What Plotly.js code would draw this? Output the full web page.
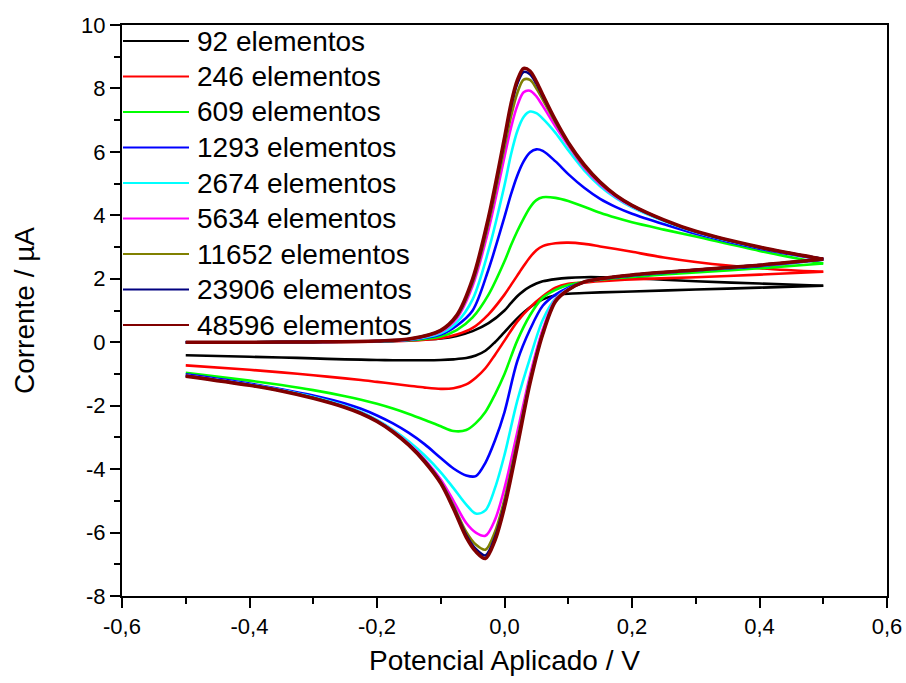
<!DOCTYPE html>
<html>
<head>
<meta charset="utf-8">
<script src="https://cdn.plot.ly/plotly-3.0.1.min.js"></script>
<style>
  html, body { margin: 0; padding: 0; background: #ffffff; }
  #chart { width: 906px; height: 683px; }
</style>
</head>
<body>
<div id="chart"></div>
<script>
// ---------------- DATA ----------------
const seriesNames = ["92 elementos", "246 elementos", "609 elementos", "1293 elementos",
  "2674 elementos", "5634 elementos", "11652 elementos", "23906 elementos", "48596 elementos"];
const seriesColors = ["#000000", "#ff0000", "#00ff00", "#0000ff", "#00ffff", "#ff00ff",
  "#808000", "#000080", "#800000"];

// forward scan (-0.5 -> 0.5 V) followed by reverse scan (0.5 -> -0.5 V)
const potentialForward = [-0.5, -0.4, -0.3, -0.2, -0.15, -0.1, -0.075, -0.05, -0.025, 0, 0.01, 0.02, 0.03,
  0.04, 0.05, 0.06, 0.08, 0.1, 0.125, 0.15, 0.175, 0.2, 0.25, 0.3, 0.4, 0.5];
const potentialReverse = [0.4, 0.3, 0.2, 0.15, 0.125, 0.1, 0.08, 0.06, 0.04, 0.02, 0, -0.015, -0.03,
  -0.045, -0.06, -0.08, -0.1, -0.125, -0.15, -0.175, -0.2, -0.225, -0.25, -0.3, -0.35, -0.4, -0.5];

// current (uA): forward values, then reverse values
const current92 = [0, 0, 0.01, 0.03, 0.06, 0.12, 0.2, 0.35, 0.6, 1.0, 1.23, 1.45, 1.62, 1.75, 1.85, 1.92, 1.99, 2.03, 2.05, 2.05, 2.04, 2.02, 1.97, 1.92, 1.85, 1.78,
  1.72, 1.66, 1.6, 1.57, 1.55, 1.53, 1.48, 1.35, 1.1, 0.75, 0.32, 0.0, -0.27, -0.42, -0.5, -0.54, -0.56, -0.57, -0.57, -0.57, -0.56, -0.55, -0.54, -0.51, -0.48, -0.46, -0.41];
const current246 = [0, 0, 0, 0.02, 0.05, 0.13, 0.24, 0.45, 0.88, 1.5, 1.8, 2.1, 2.4, 2.68, 2.9, 3.03, 3.12, 3.14, 3.1, 3.02, 2.94, 2.85, 2.67, 2.53, 2.33, 2.22,
  2.13, 2.05, 1.98, 1.92, 1.88, 1.84, 1.72, 1.45, 1.1, 0.65, 0.05, -0.4, -0.82, -1.12, -1.33, -1.45, -1.47, -1.43, -1.37, -1.31, -1.25, -1.19, -1.14, -1.04, -0.95, -0.87, -0.73];
const current609 = [0, 0, 0.01, 0.03, 0.06, 0.18, 0.38, 0.78, 1.5, 2.55, 3.05, 3.5, 3.9, 4.25, 4.48, 4.57, 4.55, 4.45, 4.27, 4.08, 3.92, 3.78, 3.55, 3.33, 2.88, 2.48,
  2.33, 2.2, 2.06, 1.97, 1.9, 1.8, 1.65, 1.4, 0.85, 0.05, -1.0, -1.65, -2.2, -2.55, -2.77, -2.8, -2.65, -2.45, -2.26, -2.09, -1.94, -1.81, -1.7, -1.51, -1.35, -1.21, -0.96];
const current1293 = [0, 0, 0.01, 0.03, 0.07, 0.24, 0.52, 1.0, 2.3, 3.95, 4.65, 5.25, 5.7, 5.98, 6.08, 6.03, 5.7, 5.3, 4.87, 4.52, 4.26, 4.05, 3.72, 3.42, 2.95, 2.6,
  2.4, 2.26, 2.1, 1.99, 1.9, 1.72, 1.5, 1.15, 0.4, -0.6, -2.2, -3.1, -3.8, -4.22, -4.2, -3.98, -3.65, -3.22, -2.86, -2.56, -2.31, -2.1, -1.93, -1.68, -1.48, -1.3, -1.01];
const current2674 = [0, 0, 0.01, 0.03, 0.08, 0.28, 0.62, 1.35, 2.9, 4.95, 5.9, 6.65, 7.1, 7.27, 7.22, 7.05, 6.6, 6.05, 5.42, 4.92, 4.54, 4.25, 3.82, 3.47, 2.98, 2.62,
  2.42, 2.27, 2.11, 1.99, 1.9, 1.68, 1.38, 0.7, -0.5, -1.85, -3.55, -4.6, -5.3, -5.4, -5.12, -4.6, -4.1, -3.57, -3.13, -2.76, -2.45, -2.2, -2.01, -1.73, -1.51, -1.33, -1.05];
const current5634 = [0, 0, 0.01, 0.04, 0.09, 0.33, 0.75, 1.78, 3.55, 5.85, 6.75, 7.45, 7.88, 7.93, 7.75, 7.45, 6.8, 6.2, 5.5, 4.98, 4.58, 4.28, 3.84, 3.48, 2.99, 2.62,
  2.43, 2.28, 2.12, 2.0, 1.9, 1.67, 1.35, 0.4, -1.05, -2.85, -4.6, -5.6, -6.1, -6.0, -5.7, -5.0, -4.33, -3.7, -3.2, -2.79, -2.47, -2.22, -2.03, -1.75, -1.52, -1.34, -1.05];
const current11652 = [0, 0, 0.01, 0.04, 0.1, 0.35, 0.8, 1.88, 3.75, 6.15, 7.1, 7.85, 8.28, 8.27, 8.0, 7.65, 6.92, 6.25, 5.55, 5.02, 4.61, 4.3, 3.85, 3.49, 2.99, 2.62,
  2.43, 2.28, 2.12, 2.0, 1.9, 1.66, 1.32, 0.32, -1.18, -3.1, -4.95, -5.98, -6.54, -6.38, -5.98, -5.15, -4.4, -3.73, -3.22, -2.81, -2.48, -2.23, -2.04, -1.75, -1.53, -1.35, -1.06];
const current23906 = [0, 0, 0.01, 0.04, 0.1, 0.37, 0.83, 1.95, 3.88, 6.35, 7.4, 8.15, 8.52, 8.45, 8.15, 7.75, 6.97, 6.28, 5.58, 5.04, 4.62, 4.31, 3.85, 3.49, 2.99, 2.62,
  2.43, 2.28, 2.12, 2.0, 1.9, 1.65, 1.3, 0.28, -1.25, -3.22, -5.1, -6.15, -6.72, -6.52, -6.08, -5.2, -4.42, -3.75, -3.23, -2.82, -2.49, -2.24, -2.05, -1.76, -1.53, -1.35, -1.06];
const current48596 = [0, 0, 0.01, 0.04, 0.1, 0.38, 0.85, 2.0, 3.95, 6.45, 7.5, 8.25, 8.63, 8.55, 8.22, 7.8, 7.0, 6.3, 5.6, 5.05, 4.63, 4.32, 3.86, 3.5, 3.0, 2.62,
  2.43, 2.28, 2.12, 2.0, 1.9, 1.65, 1.28, 0.25, -1.3, -3.3, -5.2, -6.25, -6.82, -6.6, -6.15, -5.25, -4.45, -3.78, -3.25, -2.83, -2.5, -2.25, -2.06, -1.77, -1.54, -1.36, -1.07];

const xTickVals = [-0.6, -0.4, -0.2, 0, 0.2, 0.4, 0.6];
const xTickText = ["-0,6", "-0,4", "-0,2", "0,0", "0,2", "0,4", "0,6"];
const yTickVals = [-8, -6, -4, -2, 0, 2, 4, 6, 8, 10];
const yTickText = ["-8", "-6", "-4", "-2", "0", "2", "4", "6", "8", "10"];
const xTitle = "Potencial Aplicado / V";
const yTitle = "Corrente / \u00b5A";

// ---------------- BUILD ----------------
const allCurrents = [current92, current246, current609, current1293, current2674,
  current5634, current11652, current23906, current48596];
const nF = potentialForward.length;
const potentialScan = potentialForward.concat(potentialReverse);
const FONT = "Liberation Sans, Arial, Helvetica, sans-serif";

const traces = [];
allCurrents.forEach((cur, i) => {
  const w = (i === allCurrents.length - 1) ? 3.5 : 2.6;
  // forward branch
  traces.push({
    type: "scatter", mode: "lines", name: seriesNames[i], legendgroup: "g" + i,
    x: potentialScan.slice(0, nF), y: cur.slice(0, nF),
    line: { color: seriesColors[i], width: w, shape: "spline", smoothing: 0.9 },
    showlegend: false, hoverinfo: "skip"
  });
  // reverse branch (starts at the turning point)
  traces.push({
    type: "scatter", mode: "lines", name: seriesNames[i], legendgroup: "g" + i,
    x: potentialScan.slice(nF - 1), y: cur.slice(nF - 1),
    line: { color: seriesColors[i], width: w, shape: "spline", smoothing: 0.9 },
    showlegend: false, hoverinfo: "skip"
  });
});

// plot area geometry (px) for the hand-built legend
const M = { l: 122, r: 19, t: 25, b: 87 };
const W = 906, H = 683;
const plotW = W - M.l - M.r, plotH = H - M.t - M.b;
const toPaperX = px => (px - M.l) / plotW;
const toPaperY = py => (H - M.b - py) / plotH;

const shapes = [];
const annotations = [];
seriesNames.forEach((nm, i) => {
  const py = 41 + i * 35.5;
  shapes.push({
    type: "line", xref: "paper", yref: "paper",
    x0: toPaperX(123), x1: toPaperX(189), y0: toPaperY(py), y1: toPaperY(py),
    line: { color: seriesColors[i], width: 2.2 }
  });
  annotations.push({
    xref: "paper", yref: "paper", x: toPaperX(195), y: toPaperY(py),
    xanchor: "left", yanchor: "middle", showarrow: false, text: nm,
    font: { family: FONT, size: 28, color: "#000000" }
  });
});

const layout = {
  width: W, height: H,
  margin: M,
  paper_bgcolor: "#ffffff", plot_bgcolor: "#ffffff",
  showlegend: false,
  font: { family: FONT, color: "#000000" },
  xaxis: {
    range: [-0.6, 0.6], tickmode: "array", tickvals: xTickVals, ticktext: xTickText,
    ticks: "outside", ticklen: 10, tickwidth: 2, tickcolor: "#000",
    minor: { ticks: "outside", ticklen: 6, tickwidth: 2, tickcolor: "#000", tickmode: "linear", tick0: -0.6, dtick: 0.1, showgrid: false },
    showline: true, linewidth: 2, linecolor: "#000", mirror: true,
    showgrid: false, zeroline: false,
    tickfont: { family: FONT, size: 22, color: "#000" },
    title: { text: xTitle, font: { family: FONT, size: 28, color: "#000" }, standoff: 12 }
  },
  yaxis: {
    range: [-8, 10], tickmode: "array", tickvals: yTickVals, ticktext: yTickText,
    ticks: "outside", ticklen: 10, tickwidth: 2, tickcolor: "#000",
    minor: { ticks: "outside", ticklen: 6, tickwidth: 2, tickcolor: "#000", tickmode: "linear", tick0: -8, dtick: 1, showgrid: false },
    showline: true, linewidth: 2, linecolor: "#000", mirror: true,
    showgrid: false, zeroline: false,
    tickfont: { family: FONT, size: 22, color: "#000" },
    title: { text: yTitle, font: { family: FONT, size: 28, color: "#000" }, standoff: 38 }
  },
  xaxis2: {
    overlaying: "x", side: "top", anchor: "y", range: [-0.6, 0.6],
    tickmode: "linear", tick0: -0.6, dtick: 0.1, ticks: "outside", ticklen: 3, tickwidth: 1.5,
    tickcolor: "#000", showticklabels: false, showgrid: false, zeroline: false, showline: false
  },
  yaxis2: {
    overlaying: "y", side: "right", anchor: "x", range: [-8, 10],
    tickmode: "linear", tick0: -8, dtick: 1, ticks: "outside", ticklen: 3, tickwidth: 1.5,
    tickcolor: "#000", showticklabels: false, showgrid: false, zeroline: false, showline: false
  },
  shapes: shapes,
  annotations: annotations
};

Plotly.newPlot("chart", traces, layout, { staticPlot: true, displayModeBar: false });
</script>
</body>
</html>
